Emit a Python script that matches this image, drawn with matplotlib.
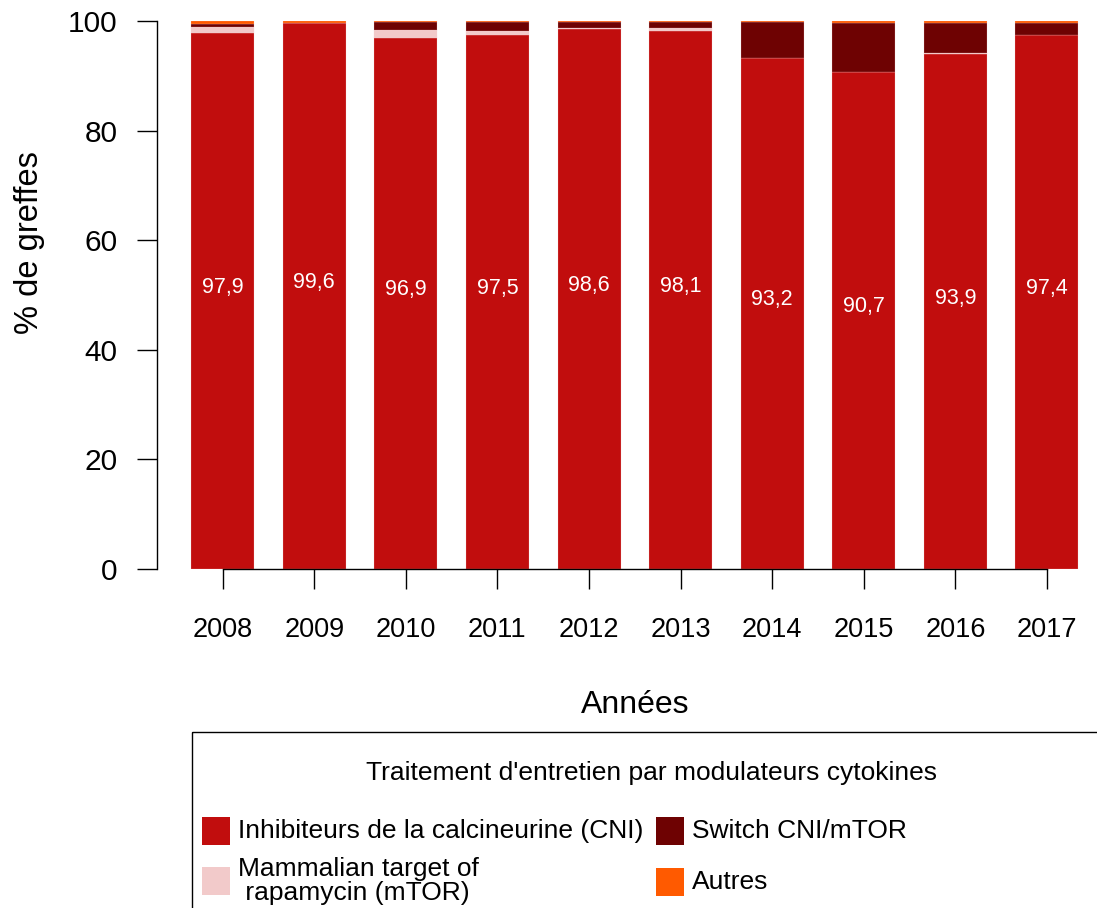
import matplotlib.pyplot as plt
from matplotlib.patches import Rectangle
import numpy as np

plt.rcParams["font.family"] = ["Liberation Sans", "DejaVu Sans"]

years = ["2008", "2009", "2010", "2011", "2012", "2013", "2014", "2015", "2016", "2017"]
cni = [97.9, 99.6, 96.9, 97.5, 98.6, 98.1, 93.2, 90.7, 93.9, 97.4]
mtor = [1.0, 0.1, 1.5, 0.6, 0.2, 0.6, 0.0, 0.0, 0.3, 0.0]
switch = [0.6, 0.0, 1.4, 1.7, 1.0, 1.1, 6.6, 9.0, 5.5, 2.3]
autres = [0.5, 0.3, 0.2, 0.2, 0.2, 0.2, 0.2, 0.3, 0.3, 0.3]

labels = ["Inhibiteurs de la calcineurine (CNI)", "Mammalian target of\n rapamycin (mTOR)",
          "Switch CNI/mTOR", "Autres"]
colors = ["#C10D0D", "#F2CACA", "#6E0202", "#FF5A00"]

W, H = 1097, 908
fig = plt.figure(figsize=(W / 100, H / 100), dpi=100)

# plot region in pixels: x 157..1088, y 21..569
ax = fig.add_axes([157 / W, 1 - 569 / H, (1088 - 157) / W, (569 - 21) / H])
x = np.arange(len(years))
bottom = np.zeros(len(years))
for vals, col in zip([cni, mtor, switch, autres], colors):
    ax.bar(x, vals, 0.688, bottom=bottom, color=col, edgecolor=(0.96, 0.8, 0.8, 0.5),
           linewidth=0.3)
    bottom += np.array(vals)

for i, v in enumerate(cni):
    ax.text(i, v / 2 + 2.5, f"{v:.1f}".replace(".", ","), ha="center", va="center",
            color="white", fontsize=15.5)

ax.set_xlim(-0.717, 9.448)
ax.set_ylim(0, 100)
for s in ["top", "right"]:
    ax.spines[s].set_visible(False)
ax.spines["left"].set_bounds(0, 100)
ax.spines["bottom"].set_bounds(0, 9)
ax.spines["left"].set_linewidth(1.0)
ax.spines["bottom"].set_linewidth(1.0)
ax.set_xticks(x, years)
ax.set_yticks([0, 20, 40, 60, 80, 100])
ax.tick_params(axis="y", length=14.4, width=1.0, pad=14, labelsize=21.5)
ax.tick_params(axis="x", length=14.4, width=1.0, pad=20, labelsize=19.5)

# overlay in pixel coordinates for axis titles and legend
ov = fig.add_axes([0, 0, 1, 1])
ov.set_xlim(0, W)
ov.set_ylim(H, 0)
ov.axis("off")
ov.text(30, 243, "% de greffes", rotation=90, ha="center", va="center", fontsize=23.5)
ov.text(635, 705, "Années", ha="center", va="center", fontsize=23)

ov.add_patch(Rectangle((192, 732), 1000, 300, fill=False, edgecolor="black", linewidth=1.0))
ov.text(651, 773, "Traitement d'entretien par modulateurs cytokines", ha="center",
        va="center", fontsize=19)
squares = [(202, 817), (202, 867), (656, 817), (656, 868)]
text_y = [831, 881, 831, 882]
for (sx, sy), ty, lab, col in zip(squares, text_y, labels, colors):
    ov.add_patch(Rectangle((sx, sy), 28, 28, facecolor=col, edgecolor="none"))
    ov.text(sx + 36, ty, lab, ha="left", va="center", fontsize=19, linespacing=1.05)

fig.savefig("out.png", dpi=100)
